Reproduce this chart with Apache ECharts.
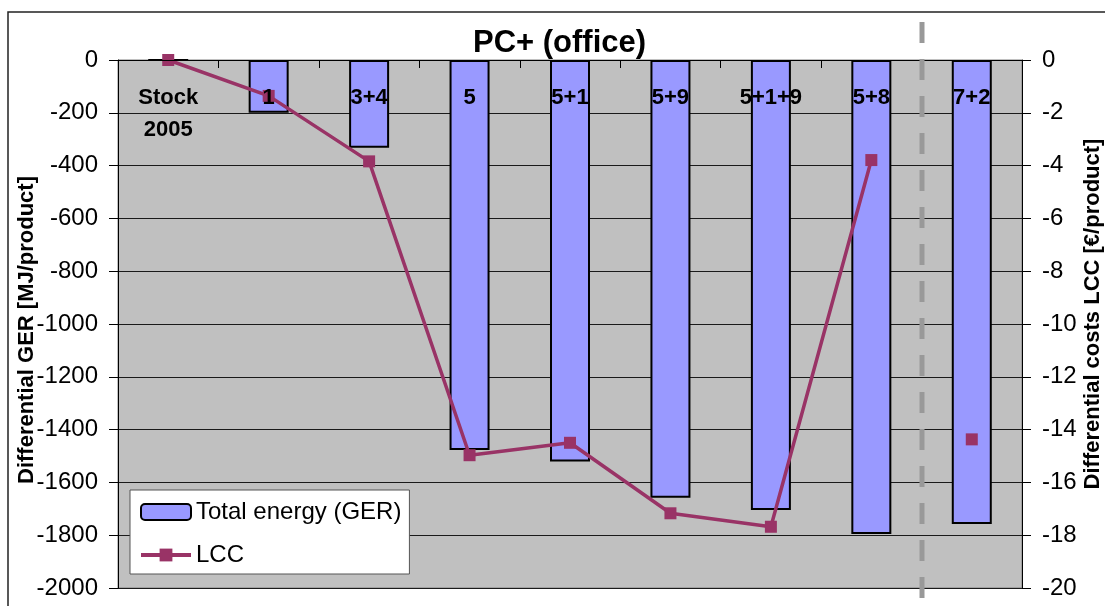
<!DOCTYPE html>
<html>
<head>
<meta charset="utf-8">
<title>PC+ (office)</title>
<script src="https://cdn.jsdelivr.net/npm/echarts@6/dist/echarts.min.js"></script>
<style>
  html, body { margin: 0; padding: 0; background: #fff; }
  #chart { width: 1105px; height: 606px; }
</style>
</head>
<body>
<div id="chart"></div>
<script>
// Improvement options for the office PC
const categories = ['Stock\n2005', '1', '3+4', '5', '5+1', '5+9', '5+1+9', '5+8', '7+2'];
// Differential gross energy requirement [MJ/product]
const gerValues = [0, -200, -332, -1477, -1521, -1658, -1705, -1795, -1758];
// Differential life cycle costs [€/product]; the last option stands apart
const lccValues = [0, -1.36, -3.84, -14.97, -14.5, -17.17, -17.68, -3.79, null];
const lccSeparate = [null, null, null, null, null, null, null, null, -14.37];
// Index after which the dashed separator is drawn
const separatorAfter = 7;

const FONT = '"Liberation Sans", Arial, sans-serif';
const chart = echarts.init(document.getElementById('chart'), null, { renderer: 'canvas' });

const plainNumber = v => String(v);

const option = {
  animation: false,
  backgroundColor: '#ffffff',
  textStyle: { fontFamily: FONT },
  title: {
    text: 'PC+ (office)',
    left: 473,
    top: 28,
    padding: 0,
    textStyle: { fontFamily: FONT, fontSize: 31, fontWeight: 'bold', color: '#000' }
  },
  grid: {
    left: 118, right: 83, top: 60, bottom: 18,
    containLabel: false,
    outerBoundsMode: 'none',
    show: true,
    backgroundColor: '#C0C0C0',
    borderColor: '#808080',
    borderWidth: 1
  },
  legend: {
    orient: 'vertical',
    left: 130,
    top: 490,
    backgroundColor: '#ffffff',
    borderColor: '#555',
    borderWidth: 1,
    padding: [10, 8, 7, 9],
    itemGap: 19,
    itemWidth: 50,
    itemHeight: 16,
    textStyle: { fontFamily: FONT, fontSize: 24, color: '#000' },
    data: [
      { name: 'Total energy (GER)' },
      { name: 'LCC', lineStyle: { width: 4 } }
    ]
  },
  xAxis: {
    type: 'category',
    position: 'top',
    data: categories,
    boundaryGap: true,
    z: 6,
    axisLine: { show: true, lineStyle: { color: '#000', width: 1 } },
    axisTick: { show: true, inside: true, length: 8, lineStyle: { color: '#000' } },
    axisLabel: {
      inside: true,
      margin: 22,
      interval: 0,
      fontFamily: FONT,
      fontSize: 22,
      fontWeight: 'bold',
      lineHeight: 32,
      color: '#000'
    },
    splitLine: { show: false }
  },
  yAxis: [
    {
      type: 'value',
      min: -2000, max: 0, interval: 200,
      position: 'left',
      name: 'Differential GER [MJ/product]',
      nameLocation: 'middle',
      nameGap: 80,
      nameMoveOverlap: false,
      nameTextStyle: {
        fontFamily: FONT, fontSize: 22, fontWeight: 'bold', color: '#000',
        padding: [0, 12, 0, 0]
      },
      axisLine: { show: true, lineStyle: { color: '#000', width: 1 } },
      axisTick: { show: true, length: 9, lineStyle: { color: '#000' } },
      axisLabel: { margin: 20, fontFamily: FONT, fontSize: 24, color: '#000', formatter: plainNumber },
      splitLine: { show: true, lineStyle: { color: '#1a1a1a', width: 1 } }
    },
    {
      type: 'value',
      min: -20, max: 0, interval: 2,
      position: 'right',
      name: 'Differential costs LCC [€/product]',
      nameLocation: 'middle',
      nameRotate: 90,
      nameGap: 60,
      nameMoveOverlap: false,
      nameTextStyle: {
        fontFamily: FONT, fontSize: 22, fontWeight: 'bold', color: '#000',
        padding: [0, 0, 0, 20]
      },
      axisLine: { show: true, lineStyle: { color: '#000', width: 1 } },
      axisTick: { show: true, length: 9, lineStyle: { color: '#000' } },
      axisLabel: { margin: 20, fontFamily: FONT, fontSize: 24, color: '#000', formatter: plainNumber },
      splitLine: { show: false }
    }
  ],
  series: [
    {
      name: 'Total energy (GER)',
      type: 'bar',
      yAxisIndex: 0,
      data: gerValues,
      barWidth: 40,
      z: 2,
      itemStyle: { color: '#9999FF', borderColor: '#000', borderWidth: 2 }
    },
    {
      name: 'LCC',
      type: 'line',
      yAxisIndex: 1,
      data: lccValues,
      z: 4,
      symbol: 'rect',
      symbolSize: 12,
      showAllSymbol: true,
      connectNulls: false,
      lineStyle: { color: '#993366', width: 3.5 },
      itemStyle: { color: '#993366' }
    },
    {
      name: 'LCC',
      type: 'line',
      yAxisIndex: 1,
      data: lccSeparate,
      z: 4,
      symbol: 'rect',
      symbolSize: 12,
      showAllSymbol: true,
      lineStyle: { color: '#993366', width: 3.5 },
      itemStyle: { color: '#993366' }
    }
  ]
};

chart.setOption(option);

// Outer frame and dashed separator between option groups
function drawDecorations() {
  const xa = chart.convertToPixel({ xAxisIndex: 0 }, separatorAfter);
  const xb = chart.convertToPixel({ xAxisIndex: 0 }, separatorAfter + 1);
  const sepX = Math.round((xa + xb) / 2);
  chart.setOption({
    graphic: [
      {
        type: 'rect',
        silent: true,
        z: 0,
        shape: { x: 8, y: 12, width: 1200, height: 700 },
        style: { fill: null, stroke: '#222', lineWidth: 1.5 }
      },
      {
        type: 'line',
        silent: true,
        z: 10,
        shape: { x1: sepX, y1: 22, x2: sepX, y2: 606 },
        style: { stroke: '#999999', lineWidth: 5, lineDash: [21, 16] }
      }
    ]
  });
}
drawDecorations();
</script>
</body>
</html>
